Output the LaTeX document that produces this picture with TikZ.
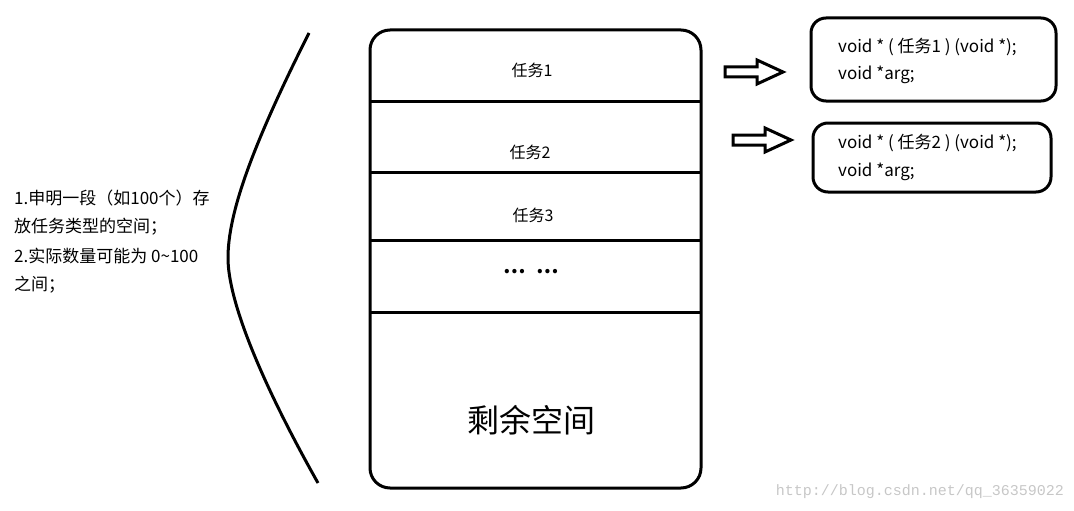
\documentclass[tikz,border=0pt]{standalone}
\usepackage{fontspec}
\setmainfont{Noto Sans CJK SC}
\newfontfamily\monof{Liberation Mono}
\begin{document}
\begin{tikzpicture}[x=1pt,y=-1pt,
  thick line/.style={line width=3pt},
  lbl/.style={font=\fontsize{16}{18}\selectfont,inner sep=0pt},
  codeline/.style={font=\fontsize{17}{18}\selectfont,inner sep=0pt,anchor=west},
  blockarrow/.style={line width=3pt,line join=miter}]
\useasboundingbox (0,0) rectangle (1074,511);
\draw[thick line,rounded corners=20pt] (370,30) rectangle (701,488);
\foreach \yy in {101,172,240,312} \draw[thick line] (370,\yy) -- (701,\yy);
\node[lbl] (t1) at (532,70) {任务1};
\node[lbl] (t2) at (530,152) {任务2};
\node[lbl] (t3) at (533,215) {任务3};
\node[font=\fontsize{20}{20}\selectfont\bfseries,inner sep=0pt] (dots) at (531,272) {…\hspace{10pt}…};
\node[font=\fontsize{32}{34}\selectfont,inner sep=0pt] (rest) at (531,420) {剩余空间};
\draw[line width=3pt] (309,33) .. controls (250,150) and (228,215) .. (228,258) .. controls (228,300) and (260,380) .. (318,483);
\foreach \ax/\ay in {725/72,733/140}
  \draw[blockarrow] (\ax,\ay-5) -- (\ax+32,\ay-5) -- (\ax+32,\ay-12) -- (\ax+58,\ay) -- (\ax+32,\ay+12) -- (\ax+32,\ay+5) -- (\ax,\ay+5) -- cycle;
\draw[thick line,rounded corners=15pt] (811,18) rectangle (1056,101);
\draw[thick line,rounded corners=15pt] (813,123) rectangle (1051,192);
\node[codeline] (c1) at (838,47) {void * ( 任务1 ) (void *);};
\node[codeline] (c2) at (838,75) {void *arg;};
\node[codeline] (c3) at (838,143) {void * ( 任务2 ) (void *);};
\node[codeline] (c4) at (838,172) {void *arg;};
\foreach \tt/\yy in {1.申明一段（如100个）存/198,放任务类型的空间；/227,2.实际数量可能为 0\textasciitilde100/256,之间；/285}
  \node[codeline,anchor=west] at (14,\yy) {\tt};
\node[font=\monof\fontsize{15}{15}\selectfont,text=black!22,anchor=east,inner sep=0pt] (wm) at (1064,492) {http://blog.csdn.net/qq\_36359022};
\end{tikzpicture}
\end{document}
